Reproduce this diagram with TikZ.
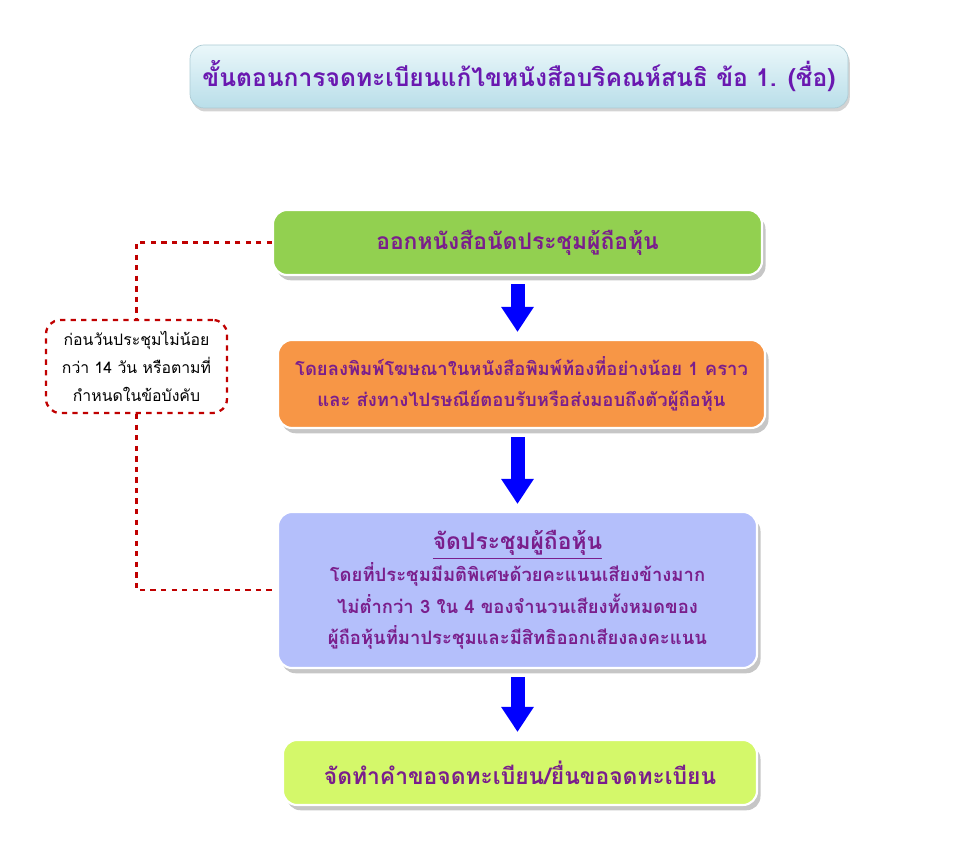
\documentclass[tikz,border=0pt]{standalone}
\usepackage{fontspec}
\newfontfamily\thaifont[Script=Thai]{Loma}
\usetikzlibrary{positioning,shadows,arrows.meta}
\definecolor{txtpurple}{HTML}{7A1E8C}
\definecolor{ttlpurple}{HTML}{6A18B0}
\definecolor{boxgreen}{HTML}{92D050}
\definecolor{boxorange}{HTML}{F79646}
\definecolor{boxblue}{HTML}{B4BFFB}
\definecolor{boxlime}{HTML}{D4F86A}
\definecolor{ttltop}{HTML}{EAF7FA}
\definecolor{ttlbot}{HTML}{B9DEE9}
\definecolor{dashred}{HTML}{C00000}
\tikzset{
  stepbox/.style={rounded corners=8pt, draw=white, line width=1.2pt, minimum height=1.3cm,
    align=center, font=\thaifont\bfseries\fontsize{13}{18}\selectfont, text=txtpurple,
    drop shadow={shadow xshift=2pt, shadow yshift=-3pt, opacity=.45, fill=gray}},
  bigarrow/.style={draw=blue, line width=0.28cm, -{Triangle[width=0.62cm,length=0.5cm]},
    shorten <=0.16cm, shorten >=0.14cm},
  notebox/.style={draw=dashred, dashed, line width=1.3pt, rounded corners=8pt, align=center,
    minimum width=3.62cm, minimum height=1.86cm, font=\thaifont\fontsize{9}{16}\selectfont},
  noteline/.style={draw=dashred, dashed, line width=1.3pt}
}
\begin{document}
\begin{tikzpicture}
\useasboundingbox (0,0) rectangle (19.2,16.84);
% title
\node[rounded corners=8pt, draw=ttlbot!80!gray, top color=ttltop, bottom color=ttlbot,
  minimum width=13.16cm, minimum height=1.26cm, text=ttlpurple,
  font=\thaifont\bfseries\fontsize{14}{18}\selectfont,
  drop shadow={shadow xshift=1pt, shadow yshift=-2pt, opacity=.35, fill=gray}]
  (title) at (10.38,15.31) {ขั้นตอนการจดทะเบียนแก้ไขหนังสือบริคณห์สนธิ ข้อ 1. (ชื่อ)};
% steps
\node[stepbox, fill=boxgreen, minimum width=9.78cm] (notice) at (10.35,11.99) {ออกหนังสือนัดประชุมผู้ถือหุ้น};
\node[stepbox, fill=boxorange, minimum width=9.74cm, minimum height=1.76cm] (publish) at (10.43,9.16)
  {\fontsize{10.5}{18}\selectfont โดยลงพิมพ์โฆษณาในหนังสือพิมพ์ท้องที่อย่างน้อย 1 คราว\\
   \fontsize{10.5}{18}\selectfont และ ส่งทางไปรษณีย์ตอบรับหรือส่งมอบถึงตัวผู้ถือหุ้น};
\node[stepbox, fill=boxblue, minimum width=9.58cm, minimum height=3.12cm] (meeting) at (10.35,5.04)
  {\underline{จัดประชุมผู้ถือหุ้น}\\
   \fontsize{10.5}{17.5}\selectfont โดยที่ประชุมมีมติพิเศษด้วยคะแนนเสียงข้างมาก\\
   \fontsize{10.5}{17.5}\selectfont ไม่ต่ำกว่า 3 ใน 4 ของจำนวนเสียงทั้งหมดของ\\
   \fontsize{10.5}{17.5}\selectfont ผู้ถือหุ้นที่มาประชุมและมีสิทธิออกเสียงลงคะแนน};
\node[stepbox, fill=boxlime, minimum width=9.48cm] (register) at (10.40,1.39) {จัดทำคำขอจดทะเบียน/ยื่นขอจดทะเบียน};
% arrows
\draw[bigarrow] (notice.south) -- (notice.south |- publish.north);
\draw[bigarrow] (publish.south -| meeting.north) -- (meeting.north);
\draw[bigarrow] (meeting.south) -- (meeting.south |- register.north);
% note
\node[notebox] (note) at (2.73,9.51) {ก่อนวันประชุมไม่น้อย\\กว่า 14 วัน หรือตามที่\\กำหนดในข้อบังคับ};
\coordinate (ntop) at (note.north |- notice.west);
\coordinate (nbot) at (note.south |- meeting.west);
\draw[noteline] (notice.west) -- (ntop) -- (note.north);
\draw[noteline] (note.south) -- (nbot) -- (meeting.west);
\end{tikzpicture}
\end{document}
